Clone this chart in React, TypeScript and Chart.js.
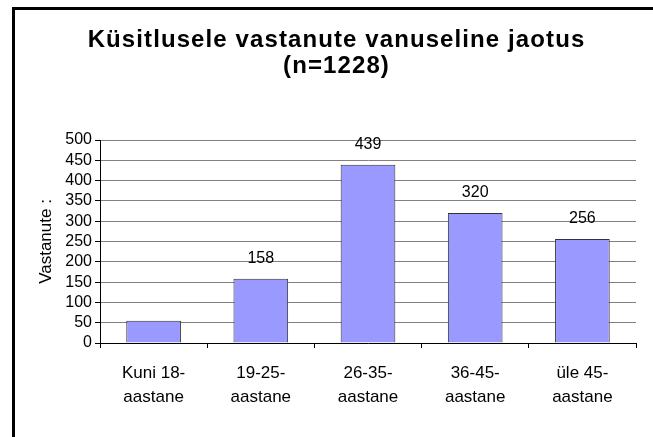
import React, { useEffect, useRef } from "react";
import { Chart, registerables } from "chart.js";

Chart.register(...registerables);

const categories: string[][] = [
  ["Kuni 18-", "aastane"],
  ["19-25-", "aastane"],
  ["26-35-", "aastane"],
  ["36-45-", "aastane"],
  ["üle 45-", "aastane"],
];
const counts: number[] = [55, 158, 439, 320, 256];
const showValueLabel: boolean[] = [false, true, true, true, true];
const titleLines: string[] = ["Küsitlusele vastanute vanuseline jaotus", "(n=1228)"];
const yAxisTitle = "Vastanute :";
const yMin = 0;
const yMax = 500;
const yStep = 50;

const FONT = '"Liberation Sans", Arial, Helvetica, sans-serif';

const overlayPlugin = {
  id: "overlay",
  afterDatasetsDraw(chart: any) {
    const ctx = chart.ctx as CanvasRenderingContext2D;
    const meta = chart.getDatasetMeta(0);
    ctx.save();
    ctx.font = `16px ${FONT}`;
    ctx.fillStyle = "#000";
    ctx.textAlign = "center";
    ctx.textBaseline = "middle";
    meta.data.forEach((bar: any, i: number) => {
      if (!showValueLabel[i]) return;
      ctx.fillText(String(counts[i]), bar.x, bar.y - 20);
    });
    ctx.restore();
  },
  afterDraw(chart: any) {
    const ctx = chart.ctx as CanvasRenderingContext2D;
    ctx.save();
    ctx.font = `bold 24px ${FONT}`;
    (ctx as any).letterSpacing = "1.1px";
    ctx.fillStyle = "#000";
    ctx.textAlign = "center";
    ctx.textBaseline = "alphabetic";
    const cx = chart.width / 2 + 10;
    titleLines.forEach((line, i) => {
      ctx.fillText(line, cx, 47 + i * 26);
    });
    ctx.restore();
  },
};

export default function App() {
  const canvasRef = useRef<HTMLCanvasElement | null>(null);

  useEffect(() => {
    if (!canvasRef.current) return;
    const chart = new Chart(canvasRef.current, {
      type: "bar",
      data: {
        labels: categories,
        datasets: [
          {
            data: counts,
            backgroundColor: "#9999ff",
            borderColor: "#333333",
            borderWidth: 1,
            categoryPercentage: 1,
            barPercentage: 0.51,
          },
        ],
      },
      options: {
        responsive: false,
        animation: false,
        devicePixelRatio: 1,
        layout: { padding: { left: 10, top: 140, right: 17, bottom: 0 } },
        plugins: {
          legend: { display: false },
          title: { display: false },
          tooltip: { enabled: false },
        },
        scales: {
          x: {
            afterFit(scale: any) {
              scale.height = 94;
            },
            grid: {
              offset: true,
              drawOnChartArea: false,
              drawTicks: true,
              tickLength: 5,
              tickColor: "#000",
            },
            border: { display: true, color: "#000", width: 1 },
            ticks: {
              color: "#000",
              font: { family: FONT, size: 17, lineHeight: 1.37 },
              padding: 14,
              maxRotation: 0,
              autoSkip: false,
            },
          },
          y: {
            min: yMin,
            max: yMax,
            afterFit(scale: any) {
              scale.width = 90;
            },
            grid: {
              color: "#808080",
              lineWidth: 1,
              drawTicks: true,
              tickLength: 5,
              tickColor: "#000",
            },
            border: { display: true, color: "#000", width: 1 },
            ticks: {
              stepSize: yStep,
              autoSkip: false,
              color: "#000",
              padding: 3,
              font: { family: FONT, size: 16, lineHeight: 1 },
            },
            title: {
              display: true,
              text: yAxisTitle,
              color: "#000",
              font: { family: FONT, size: 17, lineHeight: 1.2 },
              padding: { top: 26, bottom: 0 },
            },
          },
        },
      },
      plugins: [overlayPlugin],
    });
    return () => chart.destroy();
  }, []);

  return (
    <div
      style={{
        position: "fixed",
        left: 0,
        top: 0,
        width: 653,
        height: 437,
        overflow: "hidden",
        background: "#fff",
      }}
    >
      <div
        style={{
          position: "absolute",
          left: 12,
          top: 7,
          width: 700,
          height: 500,
          borderLeft: "3px solid #000",
          borderTop: "3px solid #000",
        }}
      />
      <canvas
        ref={canvasRef}
        width={653}
        height={437}
        style={{ position: "absolute", left: 0, top: 0, width: 653, height: 437 }}
      />
    </div>
  );
}
